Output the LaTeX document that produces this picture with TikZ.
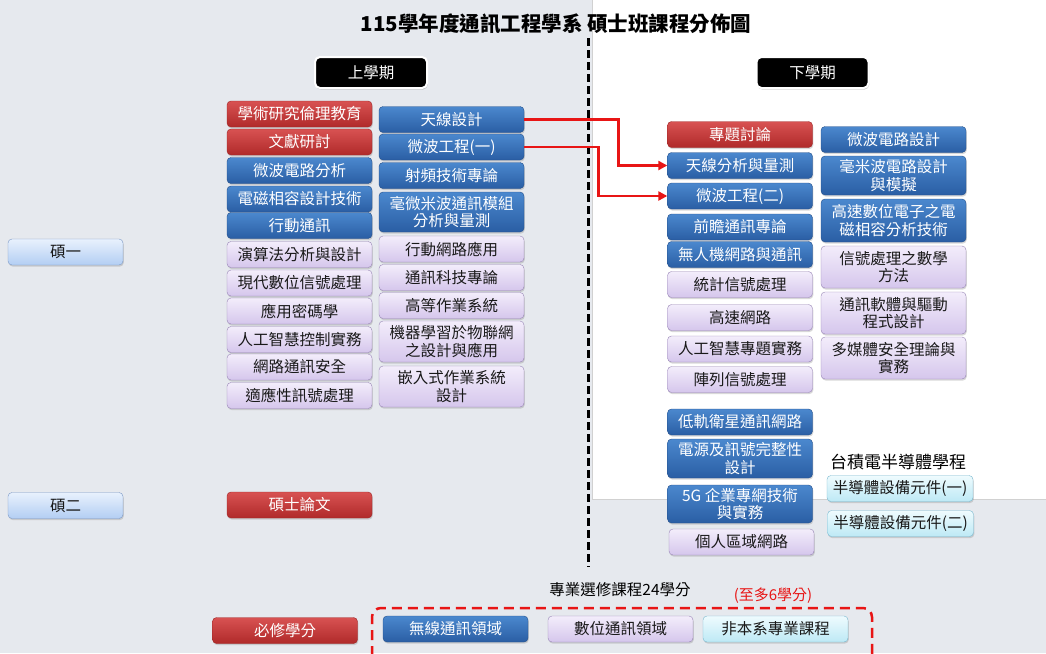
\documentclass[tikz,border=0pt]{standalone}
\usepackage{fontspec}
\setmainfont{Noto Sans CJK TC}
\usetikzlibrary{shadows,arrows.meta}
\definecolor{bgc}{HTML}{E6E9EE}
\definecolor{redtop}{HTML}{D85252}
\definecolor{redbot}{HTML}{B02A2A}
\definecolor{redln}{HTML}{9E2626}
\definecolor{blutop}{HTML}{4B88CE}
\definecolor{blubot}{HTML}{2A5EA4}
\definecolor{bluln}{HTML}{244F8A}
\definecolor{purtop}{HTML}{F3EDFB}
\definecolor{purbot}{HTML}{D5C6EC}
\definecolor{purln}{HTML}{9885B6}
\definecolor{cyntop}{HTML}{EFFBFE}
\definecolor{cynbot}{HTML}{BDE9F5}
\definecolor{cynln}{HTML}{78B8CF}
\definecolor{lbtop}{HTML}{E8F1FD}
\definecolor{lbbot}{HTML}{B3CEF3}
\definecolor{lbln}{HTML}{7B98C6}
\definecolor{arrred}{HTML}{E81515}
\newcommand\bxfont{\fontsize{15.5pt}{17.5pt}\selectfont}
\begin{document}
\begin{tikzpicture}[x=1pt,y=-1pt,
  crs/.style={rounded corners=4pt, minimum width=145pt, minimum height=26pt, inner sep=1pt,
    align=center, font=\bxfont,
    drop shadow={shadow xshift=0.8pt, shadow yshift=-1.6pt, opacity=0.3}},
  reqbox/.style={crs, draw=redln, top color=redtop, bottom color=redbot, text=white},
  wlbox/.style={crs, draw=bluln, top color=blutop, bottom color=blubot, text=white},
  dgbox/.style={crs, draw=purln, top color=purtop, bottom color=purbot, text=black!90},
  exbox/.style={crs, draw=cynln, top color=cyntop, bottom color=cynbot, text=black!90},
  yrbox/.style={crs, minimum width=115pt, draw=lbln, top color=lbtop, bottom color=lbbot, text=black!90},
  hdbox/.style={rounded corners=5pt, minimum width=112pt, minimum height=31pt, fill=black,
    draw=white, line width=2pt, text=white, font=\bxfont,
    drop shadow={shadow xshift=0.8pt, shadow yshift=-1.6pt, opacity=0.35}},
  link/.style={draw=arrred, line width=2.6pt, -{Triangle[length=9pt,width=9pt]}},
  tall/.style={minimum height=#1pt}
]
\useasboundingbox (0,0) rectangle (1046,653);
\fill[bgc] (0,0) rectangle (1046,653);
\fill[white] (592,0) rectangle (1046,499);
\draw[black!18, line width=0.8pt] (592,0) -- (592,499) -- (1046,499);

% title
\node[font=\fontsize{20.5pt}{24pt}\selectfont\bfseries] (title) at (556,24) {115學年度通訊工程學系 碩士班課程分佈圖};

% divider
\draw[black, line width=3pt, dash pattern=on 8pt off 4pt] (588,38) -- (588,567);

% headers
\node[hdbox] (h1) at (371,72.5) {上學期};
\node[hdbox] (h2) at (812.5,72.5) {下學期};

% year labels
\node[yrbox] (y1) at (65.5,252) {碩一};
\node[yrbox] (y2) at (65.5,505.5) {碩二};

% left column 1
\node[reqbox] (l1) at (299.5,114) {學術研究倫理教育};
\node[reqbox] (l2) at (299.5,142) {文獻研討};
\node[wlbox] (l3) at (299.5,170.5) {微波電路分析};
\node[wlbox] (l4) at (299.5,199) {電磁相容設計技術};
\node[wlbox] (l5) at (299.5,225.5) {行動通訊};
\node[dgbox] (l6) at (299.5,254.5) {演算法分析與設計};
\node[dgbox] (l7) at (299.5,283) {現代數位信號處理};
\node[dgbox] (l8) at (299.5,311) {應用密碼學};
\node[dgbox] (l9) at (299.5,339.5) {人工智慧控制實務};
\node[dgbox] (l10) at (299.5,367) {網路通訊安全};
\node[dgbox] (l11) at (299.5,395.5) {適應性訊號處理};
\node[reqbox] (thesis) at (299.5,505) {碩士論文};

% left column 2
\node[wlbox] (m1) at (451.5,119.5) {天線設計};
\node[wlbox] (m2) at (451.5,147) {微波工程(一)};
\node[wlbox] (m3) at (451.5,175.5) {射頻技術專論};
\node[wlbox, tall=40] (m4) at (451.5,212) {毫微米波通訊模組\\分析與量測};
\node[dgbox] (m5) at (451.5,249) {行動網路應用};
\node[dgbox] (m6) at (451.5,277.5) {通訊科技專論};
\node[dgbox] (m7) at (451.5,305.5) {高等作業系統};
\node[dgbox, tall=41] (m8) at (451.5,341.5) {機器學習於物聯網\\之設計與應用};
\node[dgbox, tall=41] (m9) at (451.5,386.5) {嵌入式作業系統\\設計};

% right column 1
\node[reqbox] (r1) at (740,134.5) {專題討論};
\node[wlbox] (r2) at (740,165.5) {天線分析與量測};
\node[wlbox] (r3) at (740,196) {微波工程(二)};
\node[wlbox] (r4) at (740,227) {前瞻通訊專論};
\node[wlbox] (r5) at (740,254.5) {無人機網路與通訊};
\node[dgbox] (r6) at (740,284.5) {統計信號處理};
\node[dgbox] (r7) at (740,317.5) {高速網路};
\node[dgbox] (r8) at (740,349) {人工智慧專題實務};
\node[dgbox] (r9) at (740,379.5) {陣列信號處理};
\node[wlbox] (r10) at (740,422) {低軌衛星通訊網路};
\node[wlbox, tall=39] (r11) at (740,458.5) {電源及訊號完整性\\設計};
\node[wlbox, tall=38] (r12) at (740,504) {5G 企業專網技術\\與實務};
\node[dgbox] (r13) at (741.5,542) {個人區域網路};

% right column 2
\node[wlbox] (s1) at (893.5,139.5) {微波電路設計};
\node[wlbox, tall=39] (s2) at (893.5,175.5) {毫米波電路設計\\與模擬};
\node[wlbox, tall=43] (s3) at (893.5,220.5) {高速數位電子之電\\磁相容分析技術};
\node[dgbox, tall=42] (s4) at (893.5,267) {信號處理之數學\\方法};
\node[dgbox, tall=42] (s5) at (893.5,313) {通訊軟體與驅動\\程式設計};
\node[dgbox, tall=42] (s6) at (893.5,358) {多媒體安全理論與\\實務};

% TSMC program
\node[font=\fontsize{17pt}{20pt}\selectfont] (tsmc) at (898,462) {台積電半導體學程};
\node[exbox, minimum width=146pt] (t1) at (900,488.5) {半導體設備元件(一)};
\node[exbox, minimum width=146pt] (t2) at (900.5,523.5) {半導體設備元件(二)};

% arrows
\draw[link] (m1.east) -- ++(94,0) |- (r2.west);
\draw[link] (m2.east) -- ++(74,0) |- (r3.west);

% legend
\node[font=\bxfont] (elect) at (620,590) {專業選修課程24學分};
\node[font=\fontsize{15pt}{17pt}\selectfont, text=arrred] (maxc) at (773,596) {(至多6學分)};
\draw[arrred, line width=2.5pt, dash pattern=on 10pt off 6pt, rounded corners=9pt]
  (372,656) -- (372,608) -- (872,608) -- (872,656);
\node[reqbox] (k1) at (285,630.5) {必修學分};
\node[wlbox] (k2) at (455.5,629) {無線通訊領域};
\node[dgbox] (k3) at (620.5,629) {數位通訊領域};
\node[exbox] (k4) at (775.5,629) {非本系專業課程};
\end{tikzpicture}
\end{document}
